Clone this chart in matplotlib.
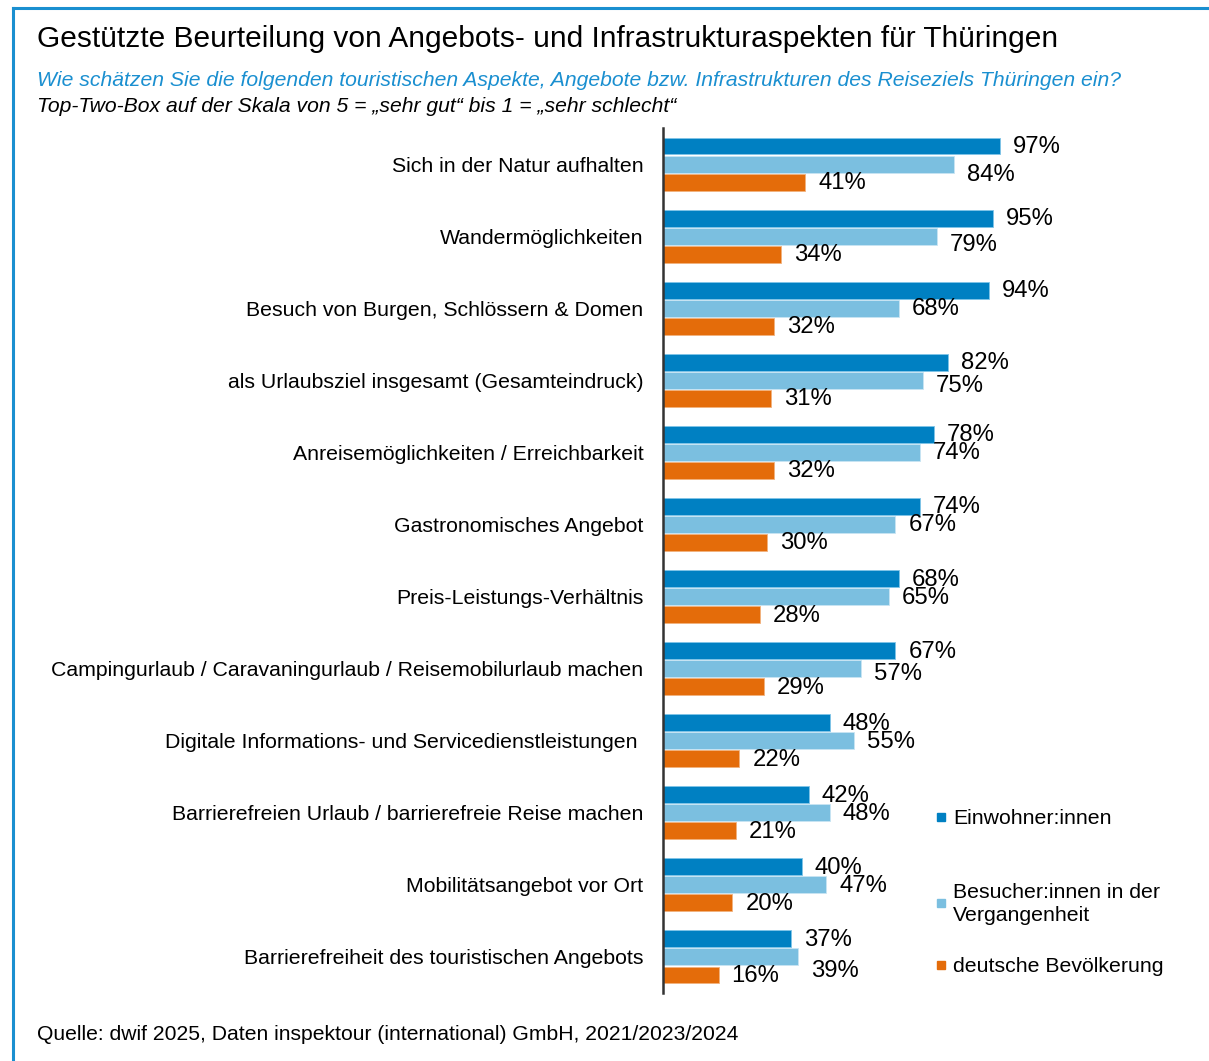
import numpy as np
import matplotlib
matplotlib.use("Agg")
import matplotlib.pyplot as plt
from matplotlib.lines import Line2D
from matplotlib.patches import Rectangle

plt.rcParams['font.family'] = ['Liberation Sans', 'DejaVu Sans']

# Daten
kategorien = [
    "Sich in der Natur aufhalten",
    "Wandermöglichkeiten",
    "Besuch von Burgen, Schlössern & Domen",
    "als Urlaubsziel insgesamt (Gesamteindruck)",
    "Anreisemöglichkeiten / Erreichbarkeit",
    "Gastronomisches Angebot",
    "Preis-Leistungs-Verhältnis",
    "Campingurlaub / Caravaningurlaub / Reisemobilurlaub machen",
    "Digitale Informations- und Servicedienstleistungen ",
    "Barrierefreien Urlaub / barrierefreie Reise machen",
    "Mobilitätsangebot vor Ort",
    "Barrierefreiheit des touristischen Angebots",
]
einwohner = [97, 95, 94, 82, 78, 74, 68, 67, 48, 42, 40, 37]
besucher = [84, 79, 68, 75, 74, 67, 65, 57, 55, 48, 47, 39]
bevoelkerung = [41, 34, 32, 31, 32, 30, 28, 29, 22, 21, 20, 16]
serien = ["Einwohner:innen", "Besucher:innen in der\nVergangenheit", "deutsche Bevölkerung"]

# Farben
C_DUNKEL = "#0080C2"
C_HELL = "#7BBFE0"
C_ORANGE = "#E46C0A"
C_RAHMEN = "#1A8FD0"

# vertikale Verschiebung der Beschriftungen (Pixel, nach unten) – nur hellblaue Serie
nudge_hell = [10, 8, 0, 5, 0, 0, 0, 4, 0, 0, 0, 13]

W, H = 1209, 1061
fig = plt.figure(figsize=(W / 100, H / 100), dpi=100)
fig.patch.set_facecolor("white")

# Rahmen oben und links
fig.add_artist(Line2D([13 / W, 1.0], [1 - 8 / H, 1 - 8 / H], color=C_RAHMEN, lw=2.2))
fig.add_artist(Line2D([13 / W, 13 / W], [0, 1 - 8 / H], color=C_RAHMEN, lw=2.2))

ax = fig.add_axes([663 / W, 68 / H, 347 / W, 865 / H])
y = np.arange(len(kategorien))
h = 0.235
ax.barh(y - 0.25, einwohner, height=h, color=C_DUNKEL, edgecolor="#7FC4E8", linewidth=0.6)
ax.barh(y, besucher, height=h, color=C_HELL, edgecolor="#C8E5F3", linewidth=0.6)
ax.barh(y + 0.25, bevoelkerung, height=h, color=C_ORANGE, edgecolor="#F2B27E", linewidth=0.6)

ax.set_xlim(0, 100)
ax.set_ylim(len(kategorien) - 0.5, -0.5)
ax.set_xticks([])
ax.set_yticks(y)
ax.set_yticklabels(kategorien, fontsize=15.3)
ax.tick_params(axis='y', length=0, pad=14)
for s in ["top", "right", "bottom"]:
    ax.spines[s].set_visible(False)
ax.spines["left"].set_color("#333333")
ax.spines["left"].set_linewidth(1.8)

# Wertebeschriftung
px = 100 / 347  # Datenwert pro Pixel in x
py = 1 / 72     # Datenwert pro Pixel in y
for i in range(len(kategorien)):
    ax.text(einwohner[i] + 13 * px, i - 0.25 + 1 * py, f"{einwohner[i]}%", va="center", ha="left", fontsize=17.2)
    ax.text(besucher[i] + 13 * px, i + (nudge_hell[i] + 1) * py, f"{besucher[i]}%", va="center", ha="left", fontsize=17.2)
    ax.text(bevoelkerung[i] + 13 * px, i + 0.25 + 1 * py, f"{bevoelkerung[i]}%", va="center", ha="left", fontsize=17.2)

# Titel
fig.text(37 / W, 1 - 39 / H, "Gestützte Beurteilung von Angebots- und Infrastrukturaspekten für Thüringen",
         fontsize=21.5, va="center", ha="left")
fig.text(37 / W, 1 - 81 / H,
         "Wie schätzen Sie die folgenden touristischen Aspekte, Angebote bzw. Infrastrukturen des Reiseziels Thüringen ein?",
         fontsize=15.2, style="italic", color="#1A8FD0", va="center", ha="left")
fig.text(37 / W, 1 - 107 / H, "Top-Two-Box auf der Skala von 5 = „sehr gut“ bis 1 = „sehr schlecht“",
         fontsize=15.2, style="italic", va="center", ha="left")

# Legende
leg_y = [818, 904, 966]
for lab, col, yy in zip(serien, [C_DUNKEL, C_HELL, C_ORANGE], leg_y):
    fig.add_artist(Rectangle((937 / W, 1 - (yy + 3) / H), 8 / W, 8 / H, color=col, transform=fig.transFigure))
    fig.text(953 / W, 1 - yy / H, lab, fontsize=15.3, va="center", ha="left", linespacing=1.25)

# Quelle
fig.text(37 / W, 1 - 1035 / H, "Quelle: dwif 2025, Daten inspektour (international) GmbH, 2021/2023/2024",
         fontsize=15.2, va="center", ha="left")

fig.savefig("out.png", dpi=100)
